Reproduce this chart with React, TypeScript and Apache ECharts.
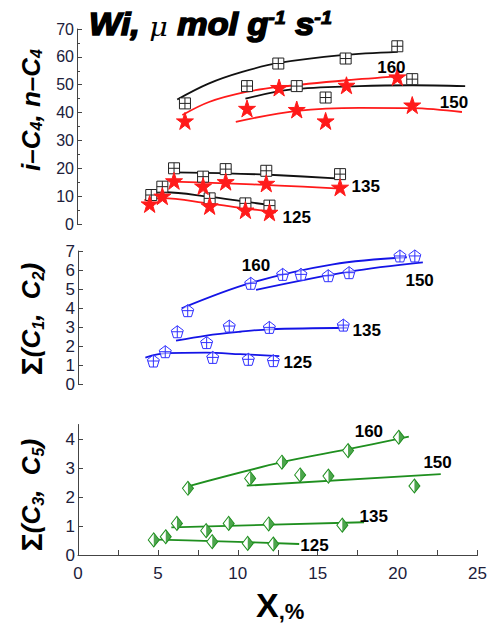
import React, { useEffect, useRef } from "react";
import * as echarts from "echarts";

// ---------- data (x = conversion X, %) ----------
// top panel: i-C4 (squares) / n-C4 (stars)
const top160Sq = [[6.73, 43.3], [12.55, 57.6], [16.75, 59.4], [19.97, 63.8]];
const top160St = [[6.73, 37.0], [12.6, 49.0], [16.8, 49.8], [19.97, 52.8]];
const top150Sq = [[10.6, 49.5], [13.7, 49.5], [15.5, 45.4], [20.9, 52.0]];
const top150St = [[10.6, 41.5], [13.7, 41.1], [15.5, 37.0], [20.9, 42.7]];
const top135Sq = [[6.05, 20.0], [7.86, 17.0], [9.27, 19.7], [11.8, 19.1], [16.4, 17.9]];
const top135St = [[6.05, 15.5], [7.86, 13.6], [9.27, 15.2], [11.8, 14.6], [16.4, 13.2]];
const top125Sq = [[4.63, 10.4], [5.32, 13.4], [8.27, 9.2], [10.5, 7.4], [12.0, 6.6]];
const top125St = [[4.53, 7.2], [5.32, 10.0], [8.27, 6.5], [10.5, 5.0], [12.0, 4.2]];

const fitTop160Sq = [[6.25, 44.7], [8.2, 50.4], [10.3, 54.6], [12.6, 57.8], [16.5, 60.6], [20, 61.8]];
const fitTop160St = [[6.57, 39.1], [8.23, 43.8], [10.54, 47.4], [12.6, 49.2], [16.8, 51.6], [20, 53.0]];
const fitTop150Sq = [[10.5, 45.0], [13.4, 48.3], [17.6, 49.5], [20.9, 49.8], [24.2, 49.5]];
const fitTop150St = [[9.9, 36.7], [13.7, 40.6], [17.6, 41.7], [20.9, 41.6], [24.0, 40.2]];
const fitTop135Sq = [[6.0, 18.5], [9.3, 18.2], [12.6, 17.5], [16.4, 16.3]];
const fitTop135St = [[6.0, 15.2], [9.3, 14.6], [12.6, 13.8], [16.4, 12.7]];
const fitTop125Sq = [[4.5, 11.0], [5.5, 11.4], [8.2, 9.8], [10.5, 8.0], [12.3, 6.6]];
const fitTop125St = [[4.2, 8.6], [5.3, 9.3], [8.2, 7.4], [10.5, 5.6], [12.4, 4.2]];

// middle panel: sum(C1, C2)
const mid160 = [[6.84, 3.86], [12.76, 5.77], [16.9, 5.86], [20.07, 6.74]];
const mid150 = [[10.77, 5.3], [13.9, 5.77], [15.6, 5.7], [21.0, 6.74]];
const mid135 = [[6.19, 2.75], [8.02, 2.18], [9.43, 3.05], [11.93, 2.98], [16.54, 3.1]];
const mid125 = [[4.7, 1.21], [5.44, 1.7], [8.4, 1.4], [10.62, 1.3], [12.18, 1.23]];
const fitMid160 = [[6.46, 3.98], [10.77, 5.32], [15.9, 6.3], [20.5, 6.67]];
const fitMid150 = [[11.1, 4.95], [16.9, 5.91], [21.5, 6.4]];
const fitMid135 = [[6.11, 2.28], [8.0, 2.55], [10.1, 2.75], [11.93, 2.88], [16.8, 2.96]];
const fitMid125 = [[4.2, 1.39], [5.5, 1.62], [8.0, 1.65], [10.1, 1.57], [12.55, 1.47]];

// bottom panel: sum(C3, C5)
const bot160 = [[6.88, 2.3], [12.76, 3.2], [16.9, 3.6], [20.07, 4.06]];
const bot150 = [[10.77, 2.64], [13.9, 2.76], [15.67, 2.72], [21.05, 2.38]];
const bot135 = [[6.19, 1.09], [8.02, 0.84], [9.43, 1.09], [11.93, 1.07], [16.54, 1.03]];
const bot125 = [[4.74, 0.52], [5.49, 0.63], [8.4, 0.46], [10.62, 0.4], [12.22, 0.38]];
const fitBot160 = [[6.88, 2.37], [12.76, 3.2], [16.9, 3.65], [20.7, 4.08]];
const fitBot150 = [[10.56, 2.39], [22.7, 2.79]];
const fitBot135 = [[5.84, 0.95], [17.9, 1.13]];
const fitBot125 = [[4.45, 0.54], [8.4, 0.48], [13.84, 0.38]];

// temperature labels [x, y, text]
const topLabels = [[19.6, 56.3, "160"], [23.5, 43.7, "150"], [18.0, 13.3, "135"], [13.7, 2.5, "125"]];
const midLabels = [[11.1, 6.26, "160"], [21.3, 5.44, "150"], [18.0, 2.84, "135"], [13.7, 1.12, "125"]];
const botLabels = [[18.2, 4.25, "160"], [22.5, 3.18, "150"], [18.5, 1.34, "135"], [14.8, 0.34, "125"]];

const xTicks = { min: 0, max: 25, interval: 5 };
const yTop = { min: 0, max: 70, interval: 10 };
const yMid = { min: 0, max: 7, interval: 1 };
const yBot = { min: 0, max: 4.5, interval: 1 };

// ---------- styles ----------
const FONT = "Liberation Sans, Arial, sans-serif";
const LABEL_COLOR = "#20203a";
const SQ = "path://M0,0 L10,0 L10,10 L0,10 Z M5,0 L5,10 M0,5 L10,5";
const PENT = "path://M5,0 L10,3.8 L8.1,10 L1.9,10 L0,3.8 Z M5,0 L5,10 M0.3,5 L9.7,5";
const DIAM = "path://M5,0 L10,6 L5,12 L0,6 Z";
const HALF = "path://M0,0 L5,6 L0,12 Z";
const STAR = "path://M50,0 L61.8,36.2 L100,36.2 L69.1,58.8 L80.9,95.1 L50,72.7 L19.1,95.1 L30.9,58.8 L0,36.2 L38.2,36.2 Z";

function App() {
  const ref = useRef<HTMLDivElement>(null);
  useEffect(() => {
    document.body.style.margin = "0";
    const chart = echarts.init(ref.current!, null, { renderer: "svg" });

    const grids = [
      { left: 77, right: 12, top: 29, height: 195 },
      { left: 78, right: 11, top: 251, height: 133 },
      { left: 78, right: 11, top: 424.5, height: 130.5 },
    ];

    const xAxes = [0, 1, 2].map((i) => ({
      type: "value",
      gridIndex: i,
      ...xTicks,
      show: i === 2,
      splitLine: { show: false },
      axisLine: { show: true, onZero: false, lineStyle: { color: "#444", width: 1 } },
      axisTick: { show: true, inside: true, length: 5, lineStyle: { color: "#444" } },
      minorTick: { show: true, splitNumber: 2, length: 5, lineStyle: { color: "#444" } },
      axisLabel: { show: true, fontFamily: FONT, fontSize: 17, color: LABEL_COLOR, margin: 10 },
    }));

    const yBase = (i: number, sc: any, minor: boolean, fs: number) => ({
      type: "value",
      gridIndex: i,
      ...sc,
      splitLine: { show: false },
      axisLine: { show: true, lineStyle: { color: "#444", width: 1 } },
      axisTick: { show: true, inside: true, length: 5, lineStyle: { color: "#444" } },
      minorTick: { show: minor, splitNumber: 2, length: 3, lineStyle: { color: "#444" } },
      axisLabel: { fontFamily: FONT, fontSize: fs, color: LABEL_COLOR, margin: 3 },
    });

    const line = (idx: number, data: any, color: string) => ({
      type: "line",
      xAxisIndex: idx,
      yAxisIndex: idx,
      data,
      smooth: 0.35,
      symbol: "none",
      silent: true,
      z: 2,
      lineStyle: { color, width: 1.8 },
    });
    const scat = (idx: number, data: any, symbol: string, size: any, fill: string, border: string, extra: any = {}) => ({
      type: "scatter",
      xAxisIndex: idx,
      yAxisIndex: idx,
      data,
      symbol,
      symbolSize: size,
      z: 3,
      itemStyle: { color: fill, borderColor: border, borderWidth: 1, opacity: 1 },
      ...extra,
    });
    const labels = (idx: number, arr: any[]) => ({
      type: "scatter",
      xAxisIndex: idx,
      yAxisIndex: idx,
      data: arr.map((d) => ({ value: [d[0], d[1]], name: d[2] })),
      symbolSize: 0,
      z: 5,
      label: {
        show: true,
        position: "inside",
        formatter: "{b}",
        fontFamily: FONT,
        fontSize: 17,
        fontWeight: "bold",
        color: "#000",
        textBorderWidth: 0,
        opacity: 1,
      },
    });

    const series: any[] = [];
    const BLACK = "#111111";
    const RED = "#ff1a1a";
    [fitTop160Sq, fitTop150Sq, fitTop135Sq, fitTop125Sq].forEach((d) => series.push(line(0, d, BLACK)));
    [fitTop160St, fitTop150St, fitTop135St, fitTop125St].forEach((d) => series.push(line(0, d, RED)));
    [top160Sq, top150Sq, top135Sq, top125Sq].forEach((d) =>
      series.push(scat(0, d, SQ, 11, "#ffffff", "#222222"))
    );
    [top160St, top150St, top135St, top125St].forEach((d) => series.push(scat(0, d, STAR, 17, RED, RED)));
    series.push(labels(0, topLabels));

    const BLUE = "#1414e6";
    [fitMid160, fitMid150, fitMid135, fitMid125].forEach((d) => series.push(line(1, d, BLUE)));
    [mid160, mid150, mid135, mid125].forEach((d) =>
      series.push(scat(1, d, PENT, 12, "rgba(255,255,255,0.6)", "#3030ff"))
    );
    series.push(labels(1, midLabels));

    const GREEN = "#1f8f1f";
    [fitBot160, fitBot150, fitBot135, fitBot125].forEach((d) => series.push(line(2, d, GREEN)));
    [bot160, bot150, bot135, bot125].forEach((d) => {
      series.push(scat(2, d, DIAM, [11, 14], "#ffffff", GREEN));
      series.push(scat(2, d, HALF, [5.5, 14], GREEN, GREEN, { symbolOffset: [2.75, 0], itemStyle: { color: GREEN, borderWidth: 0 } }));
    });
    series.push(labels(2, botLabels));

    const ytitle = (y: number, text: string, rich: any) => ({
      type: "text",
      x: 31,
      y,
      rotation: Math.PI / 2,
      style: { text, rich, align: "center", verticalAlign: "middle", fill: "#000" },
    });
    const bi = { fontFamily: FONT, fontSize: 26, fontWeight: "bold", fontStyle: "italic", fill: "#000" };
    const sub = { fontFamily: FONT, fontSize: 16, fontWeight: "bold", fontStyle: "italic", fill: "#000", verticalAlign: "bottom" };
    const sig = { fontFamily: FONT, fontSize: 30, fontWeight: "bold", fill: "#000" };

    chart.setOption({
      animation: false,
      grid: grids,
      xAxis: xAxes,
      yAxis: [yBase(0, yTop, true, 16), yBase(1, yMid, false, 17), yBase(2, yBot, false, 17)],
      series,
      graphic: [
        {
          type: "text",
          x: 89,
          y: 9,
          scaleX: 1.1,
          style: {
            text: "{a|Wi, }{m|μ}{a| mol g}{s|-1}{a| s}{s|-1}",
            rich: {
              a: { fontFamily: FONT, fontSize: 31, fontWeight: "bold", fontStyle: "italic", fill: "#000", stroke: "#000", lineWidth: 1.6, verticalAlign: "bottom" },
              m: { fontFamily: "DejaVu Serif, serif", fontSize: 26, fontStyle: "italic", fill: "#000", verticalAlign: "bottom" },
              s: { fontFamily: FONT, fontSize: 18, fontWeight: "bold", fontStyle: "italic", fill: "#000", stroke: "#000", lineWidth: 1, verticalAlign: "top" },
            },
          },
        },
        ytitle(110, "{b|i–C}{s|4}{b|, n–C}{s|4}", { b: bi, s: sub }),
        ytitle(319, "{g|Σ}{b|(C}{s|1}{b|,  C}{s|2}{b|)}", { g: sig, b: bi, s: sub }),
        ytitle(495, "{g|Σ}{b|(C}{s|3}{b|,  C}{s|5}{b|)}", { g: sig, b: bi, s: sub }),
        {
          type: "text",
          left: 256,
          top: 588,
          style: {
            text: "{x|X}{p|,%}",
            rich: {
              x: { fontFamily: FONT, fontSize: 34, fontWeight: "bold", fill: "#000", verticalAlign: "bottom" },
              p: { fontFamily: FONT, fontSize: 22, fontWeight: "bold", fill: "#000", verticalAlign: "bottom" },
            },
          },
        },
      ],
    });
    return () => chart.dispose();
  }, []);
  return <div ref={ref} style={{ width: 490, height: 623 }} />;
}

export default App;
